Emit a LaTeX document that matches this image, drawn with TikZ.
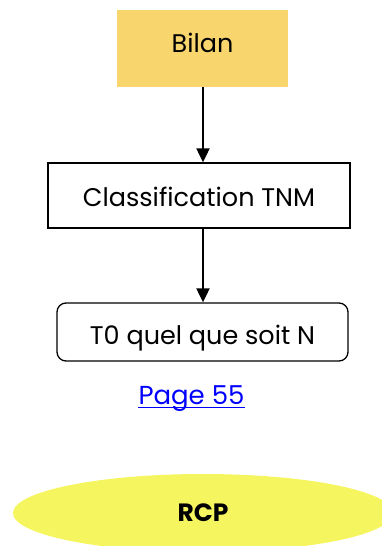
\documentclass[tikz,border=0pt]{standalone}
\usepackage{fontspec}
\setmainfont{Poppins}
\usetikzlibrary{arrows.meta,shapes.geometric}
\definecolor{bilanfill}{HTML}{F9D56E}
\definecolor{rcpfill}{HTML}{F5F55F}
\definecolor{linkblue}{HTML}{0000FF}
\tikzset{
  box/.style={draw=black,line width=1.3pt,minimum height=#1,inner sep=0pt,text depth=0pt,font=\fontsize{25.5}{30}\selectfont},
  conn/.style={line width=2pt,-{Triangle[width=13pt,length=14pt]}}
}
\begin{document}
\begin{tikzpicture}[x=1pt,y=-1pt]
\useasboundingbox (0,0) rectangle (382,546);
\clip (0,0) rectangle (382,546);
\node[fill=bilanfill,minimum width=171pt,minimum height=77pt,inner sep=0pt,text height=7pt,text depth=0pt,font=\fontsize{25.5}{30}\selectfont] (bilan) at (202.5,48.5) {Bilan};
\node[box=65pt,minimum width=302pt,text height=22.5pt] (tnm) at (199,195.5) {Classification TNM};
\node[box=58pt,minimum width=291pt,rounded corners=9pt,text height=24pt] (t0) at (202.5,332) {T0 quel que soit N};
\draw[conn] (bilan.south -| 203,0) -- (tnm.north -| 203,0);
\draw[conn] (tnm.south -| 203,0) -- (t0.north -| 203,0);
\node[text=linkblue,font=\fontsize{26}{30}\selectfont,inner sep=0pt,anchor=base] (page) at (191.5,404) {Page 55};
\draw[linkblue,line width=1.5pt] ([yshift=-3.5pt]page.base west) -- ([yshift=-3.5pt]page.base east);
\node[ellipse,fill=rcpfill,minimum width=380pt,minimum height=78pt,inner sep=0pt,font=\bfseries\fontsize{25}{30}\selectfont] (rcp) at (203,513) {RCP};
\end{tikzpicture}
\end{document}
